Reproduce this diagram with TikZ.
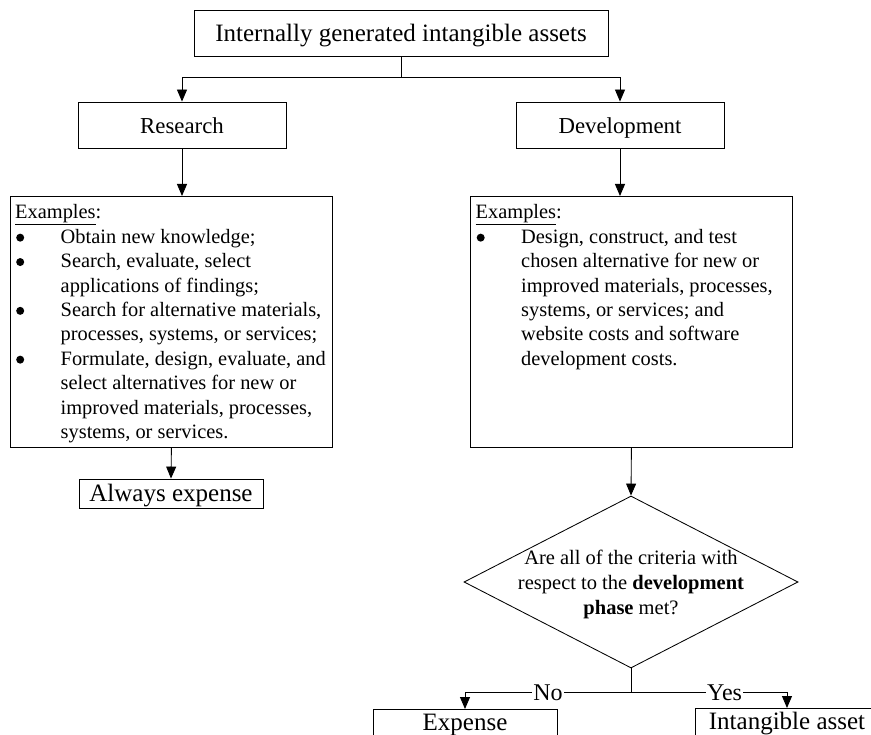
\documentclass[tikz,border=0pt]{standalone}
\usepackage{fontspec}
\setmainfont{Liberation Serif}
\usetikzlibrary{arrows.meta,shapes.geometric}
% bullet line start and hanging indent for the example lists
\newcommand{\exbul}{\hspace*{1pt}\makebox[44.5pt][l]{\tikz[baseline=0pt]\fill (4pt,5.6pt) circle[radius=4pt];}}
\newcommand{\exind}{\hspace*{45.5pt}}
\begin{document}
\begin{tikzpicture}[x=1pt,y=-1pt,line width=0.85pt,
  box/.style={draw,rectangle,inner sep=0pt},
  bigfont/.style={font=\fontsize{25}{30}\selectfont},
  midfont/.style={font=\fontsize{22.8}{27}\selectfont},
  extext/.style={align=left,inner sep=0pt,font=\fontsize{20.4}{24.4}\selectfont},
  arr/.style={-{Triangle[length=12pt,width=10pt]}},
  lab/.style={fill=white,inner sep=1pt,font=\fontsize{24}{28}\selectfont,text height=16pt,text depth=0pt}]
\useasboundingbox (0,0) rectangle (871,735);

% top level
\node[box,bigfont,minimum width=414pt,minimum height=46pt,text height=20pt,text depth=2pt]
  (top) at (401,33) {Internally generated intangible assets};
\coordinate (tj) at (401,77);

% the two phases
\node[box,midfont,minimum width=208pt,minimum height=46pt,text height=18pt,text depth=1.4pt]
  (res) at (182,125) {Research};
\node[box,midfont,minimum width=208pt,minimum height=46pt,text height=18pt,text depth=1.4pt]
  (dev) at (620,125) {Development};

% example boxes
\node[box,minimum width=322pt,minimum height=251pt,anchor=north west] (lex) at (10,196) {};
\node[box,minimum width=322pt,minimum height=251pt,anchor=north west] (rex) at (470,196) {};

\node[extext,anchor=north west] (lext) at (15,204.5) {%
  \underline{Examples}:\\
  \exbul Obtain new knowledge;\\
  \exbul Search, evaluate, select\\
  \exind applications of findings;\\
  \exbul Search for alternative materials,\\
  \exind processes, systems, or services;\\
  \exbul Formulate, design, evaluate, and\\
  \exind select alternatives for new or\\
  \exind improved materials, processes,\\
  \exind systems, or services.};

\node[extext,anchor=north west] (rext) at (475.5,204.5) {%
  \underline{Examples}:\\
  \exbul Design, construct, and test\\
  \exind chosen alternative for new or\\
  \exind improved materials, processes,\\
  \exind systems, or services; and\\
  \exind website costs and software\\
  \exind development costs.};

% research outcome
\node[box,bigfont,minimum width=184pt,minimum height=29pt,text height=17pt,text depth=2pt]
  (alw) at (171,493.5) {Always expense};

% decision
\node[draw,diamond,aspect=1.94,minimum width=334pt,minimum height=172pt,inner sep=0pt]
  (dia) at (631,582) {};
\node[align=center,inner sep=0pt,font=\fontsize{20.5}{25}\selectfont] (diat) at (631,584)
  {Are all of the criteria with\\ respect to the \textbf{development}\\ \textbf{phase} met?};
\coordinate (j) at (631,692);

% development outcomes
\node[box,bigfont,minimum width=184pt,minimum height=32pt,text height=17pt,text depth=7pt,anchor=north]
  (exp) at (465,709) {Expense};
\node[box,bigfont,minimum width=184pt,minimum height=32pt,text height=17pt,text depth=7pt,anchor=north]
  (int) at (787,708) {Intangible asset};

% connectors
\draw (top.south) -- (tj);
\draw[arr] (tj) -| (res.north);
\draw[arr] (tj) -| (dev.north);
\draw[arr] (res.south) -- (res.south |- lex.north);
\draw[arr] (dev.south) -- (dev.south |- rex.north);
\draw[arr] (lex.south) -- (alw.north);
\draw[arr] (rex.south) -- (dia.north);
\draw (dia.south) -- (j);
\draw[arr] (j) -| node[lab,pos=0.25] {No} (exp.north);
\draw[arr] (j) -| node[lab,pos=0.3] {Yes} (int.north);
\end{tikzpicture}
\end{document}
